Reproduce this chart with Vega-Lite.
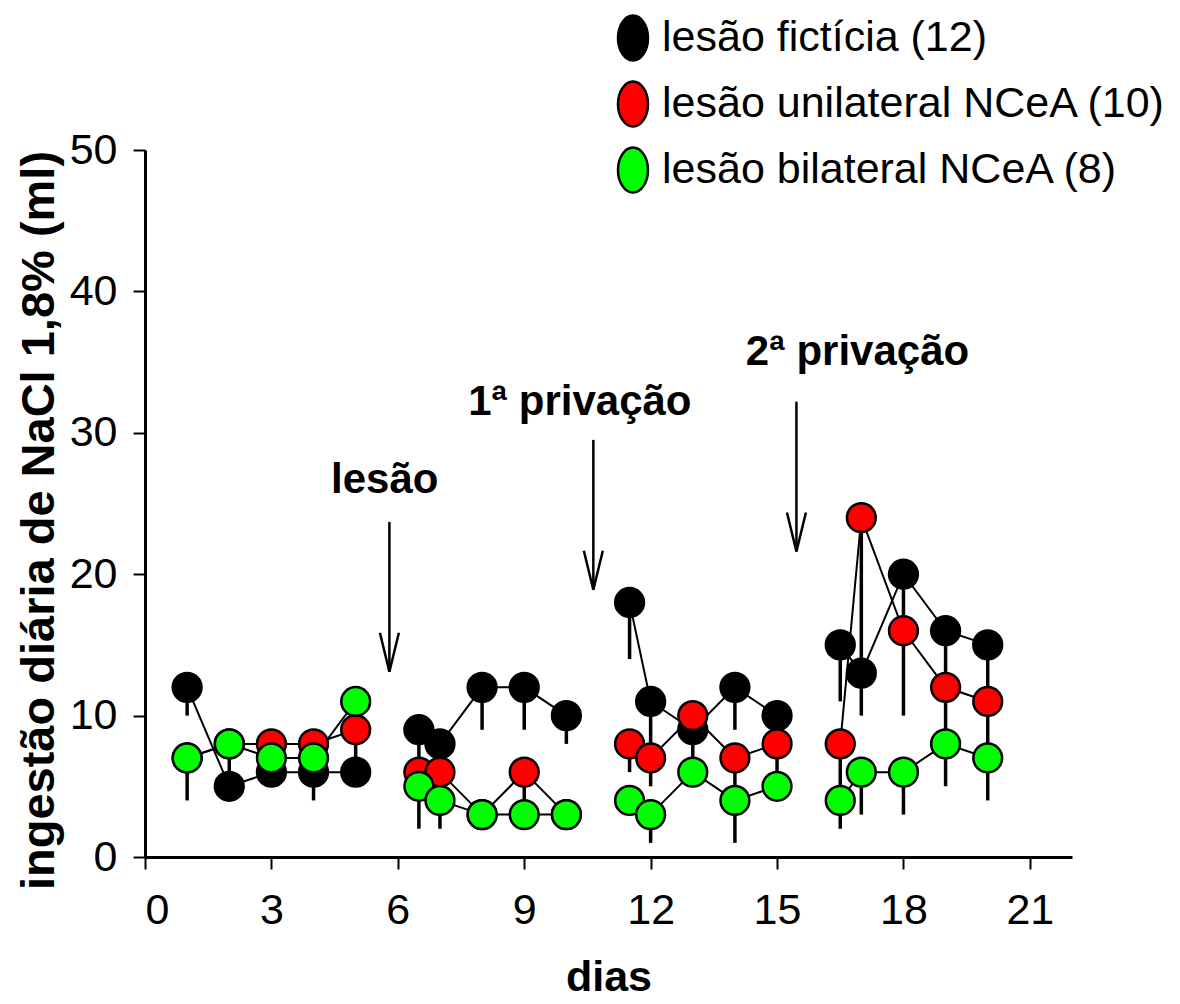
{
  "$schema": "https://vega.github.io/schema/vega-lite/v6.json",
  "autosize": {"type": "none"},
  "padding": {"left": 145, "top": 150, "right": 108, "bottom": 147},
  "width": 927,
  "height": 707,
  "background": "white",
  "config": {
    "view": {"stroke": null},
    "font": "Liberation Sans",
    "axis": {
      "grid": false,
      "domainColor": "black",
      "domainWidth": 3,
      "tickColor": "black",
      "tickWidth": 2,
      "tickSize": 12,
      "labelFont": "Liberation Sans",
      "labelFontSize": 43,
      "labelColor": "black",
      "titleFont": "Liberation Sans",
      "titleFontWeight": "bold",
      "titleColor": "black"
    }
  },
  "datasets": {
    "obs": [
      {"day": 1, "seg": 1, "grupo": "lesão fictícia (12)", "v": 12, "lo": 10},
      {"day": 2, "seg": 1, "grupo": "lesão fictícia (12)", "v": 5, "lo": 4.2},
      {"day": 3, "seg": 1, "grupo": "lesão fictícia (12)", "v": 6, "lo": 5.2},
      {"day": 4, "seg": 1, "grupo": "lesão fictícia (12)", "v": 6, "lo": 4},
      {"day": 5, "seg": 1, "grupo": "lesão fictícia (12)", "v": 6, "lo": 5.2},
      {"day": 6.5, "seg": 2, "grupo": "lesão fictícia (12)", "v": 9, "lo": 6},
      {"day": 7, "seg": 2, "grupo": "lesão fictícia (12)", "v": 8, "lo": 6.5},
      {"day": 8, "seg": 2, "grupo": "lesão fictícia (12)", "v": 12, "lo": 9},
      {"day": 9, "seg": 2, "grupo": "lesão fictícia (12)", "v": 12, "lo": 9},
      {"day": 10, "seg": 2, "grupo": "lesão fictícia (12)", "v": 10, "lo": 8},
      {"day": 11.5, "seg": 3, "grupo": "lesão fictícia (12)", "v": 18, "lo": 14},
      {"day": 12, "seg": 3, "grupo": "lesão fictícia (12)", "v": 11, "lo": 7.5},
      {"day": 13, "seg": 3, "grupo": "lesão fictícia (12)", "v": 9, "lo": 6.5},
      {"day": 14, "seg": 3, "grupo": "lesão fictícia (12)", "v": 12, "lo": 9},
      {"day": 15, "seg": 3, "grupo": "lesão fictícia (12)", "v": 10, "lo": 8.5},
      {"day": 16.5, "seg": 4, "grupo": "lesão fictícia (12)", "v": 15, "lo": 11},
      {"day": 17, "seg": 4, "grupo": "lesão fictícia (12)", "v": 13, "lo": 10},
      {"day": 18, "seg": 4, "grupo": "lesão fictícia (12)", "v": 20, "lo": 16},
      {"day": 19, "seg": 4, "grupo": "lesão fictícia (12)", "v": 16, "lo": 12},
      {"day": 20, "seg": 4, "grupo": "lesão fictícia (12)", "v": 15, "lo": 11},
      {"day": 1, "seg": 1, "grupo": "lesão unilateral NCeA (10)", "v": 7, "lo": 6.2},
      {"day": 2, "seg": 1, "grupo": "lesão unilateral NCeA (10)", "v": 8, "lo": 7.2},
      {"day": 3, "seg": 1, "grupo": "lesão unilateral NCeA (10)", "v": 8, "lo": 7.2},
      {"day": 4, "seg": 1, "grupo": "lesão unilateral NCeA (10)", "v": 8, "lo": 7.2},
      {"day": 5, "seg": 1, "grupo": "lesão unilateral NCeA (10)", "v": 9, "lo": 7},
      {"day": 6.5, "seg": 2, "grupo": "lesão unilateral NCeA (10)", "v": 6, "lo": 5},
      {"day": 7, "seg": 2, "grupo": "lesão unilateral NCeA (10)", "v": 6, "lo": 5},
      {"day": 8, "seg": 2, "grupo": "lesão unilateral NCeA (10)", "v": 3, "lo": 2.5},
      {"day": 9, "seg": 2, "grupo": "lesão unilateral NCeA (10)", "v": 6, "lo": 3.5},
      {"day": 10, "seg": 2, "grupo": "lesão unilateral NCeA (10)", "v": 3, "lo": 2.5},
      {"day": 11.5, "seg": 3, "grupo": "lesão unilateral NCeA (10)", "v": 8, "lo": 6},
      {"day": 12, "seg": 3, "grupo": "lesão unilateral NCeA (10)", "v": 7, "lo": 5},
      {"day": 13, "seg": 3, "grupo": "lesão unilateral NCeA (10)", "v": 10, "lo": 8.5},
      {"day": 14, "seg": 3, "grupo": "lesão unilateral NCeA (10)", "v": 7, "lo": 4.5},
      {"day": 15, "seg": 3, "grupo": "lesão unilateral NCeA (10)", "v": 8, "lo": 5},
      {"day": 16.5, "seg": 4, "grupo": "lesão unilateral NCeA (10)", "v": 8, "lo": 4},
      {"day": 17, "seg": 4, "grupo": "lesão unilateral NCeA (10)", "v": 24, "lo": 14},
      {"day": 18, "seg": 4, "grupo": "lesão unilateral NCeA (10)", "v": 16, "lo": 10},
      {"day": 19, "seg": 4, "grupo": "lesão unilateral NCeA (10)", "v": 12, "lo": 8},
      {"day": 20, "seg": 4, "grupo": "lesão unilateral NCeA (10)", "v": 11, "lo": 7},
      {"day": 1, "seg": 1, "grupo": "lesão bilateral NCeA (8)", "v": 7, "lo": 4},
      {"day": 2, "seg": 1, "grupo": "lesão bilateral NCeA (8)", "v": 8, "lo": 6},
      {"day": 3, "seg": 1, "grupo": "lesão bilateral NCeA (8)", "v": 7, "lo": 6.2},
      {"day": 4, "seg": 1, "grupo": "lesão bilateral NCeA (8)", "v": 7, "lo": 6.2},
      {"day": 5, "seg": 1, "grupo": "lesão bilateral NCeA (8)", "v": 11, "lo": 8},
      {"day": 6.5, "seg": 2, "grupo": "lesão bilateral NCeA (8)", "v": 5, "lo": 2},
      {"day": 7, "seg": 2, "grupo": "lesão bilateral NCeA (8)", "v": 4, "lo": 2},
      {"day": 8, "seg": 2, "grupo": "lesão bilateral NCeA (8)", "v": 3, "lo": 2.2},
      {"day": 9, "seg": 2, "grupo": "lesão bilateral NCeA (8)", "v": 3, "lo": 2.2},
      {"day": 10, "seg": 2, "grupo": "lesão bilateral NCeA (8)", "v": 3, "lo": 2.2},
      {"day": 11.5, "seg": 3, "grupo": "lesão bilateral NCeA (8)", "v": 4, "lo": 3.2},
      {"day": 12, "seg": 3, "grupo": "lesão bilateral NCeA (8)", "v": 3, "lo": 1},
      {"day": 13, "seg": 3, "grupo": "lesão bilateral NCeA (8)", "v": 6, "lo": 5.2},
      {"day": 14, "seg": 3, "grupo": "lesão bilateral NCeA (8)", "v": 4, "lo": 1},
      {"day": 15, "seg": 3, "grupo": "lesão bilateral NCeA (8)", "v": 5, "lo": 4.2},
      {"day": 16.5, "seg": 4, "grupo": "lesão bilateral NCeA (8)", "v": 4, "lo": 2},
      {"day": 17, "seg": 4, "grupo": "lesão bilateral NCeA (8)", "v": 6, "lo": 3},
      {"day": 18, "seg": 4, "grupo": "lesão bilateral NCeA (8)", "v": 6, "lo": 3},
      {"day": 19, "seg": 4, "grupo": "lesão bilateral NCeA (8)", "v": 8, "lo": 5},
      {"day": 20, "seg": 4, "grupo": "lesão bilateral NCeA (8)", "v": 7, "lo": 4}
    ],
    "arrows": [
      {"x": 5.8, "top": 23.7, "tip": 13.1},
      {"x": 10.64, "top": 29.5, "tip": 18.9},
      {"x": 15.46, "top": 32.2, "tip": 21.6}
    ],
    "notes": [
      {"x": 5.69, "y": 25.74, "label": "lesão"},
      {"x": 10.32, "y": 31.26, "label": "1ª privação"},
      {"x": 16.91, "y": 34.8, "label": "2ª privação"}
    ]
  },
  "layer": [
    {
      "data": {"name": "obs"},
      "mark": {"type": "rule", "color": "black", "strokeWidth": 3.5},
      "encoding": {
        "x": {"field": "day", "type": "quantitative", "scale": {"domain": [0, 22], "nice": false},
              "axis": {"values": [0, 3, 6, 9, 12, 15, 18, 21], "title": "dias", "titleFontSize": 43, "labelPadding": 20, "titlePadding": 24}},
        "y": {"field": "v", "type": "quantitative", "scale": {"domain": [0, 50], "nice": false},
              "axis": {"values": [0, 10, 20, 30, 40, 50], "title": "ingestão diária de NaCl 1,8% (ml)", "titleFontSize": 47, "labelPadding": 16, "titlePadding": 6, "titleY": 370}},
        "y2": {"field": "lo"}
      }
    },
    {
      "data": {"name": "obs"},
      "mark": {"type": "line", "color": "black", "strokeWidth": 2},
      "encoding": {
        "x": {"field": "day", "type": "quantitative"},
        "y": {"field": "v", "type": "quantitative"},
        "detail": [{"field": "grupo"}, {"field": "seg"}],
        "order": {"field": "day"}
      }
    },
    {
      "data": {"name": "obs"},
      "mark": {"type": "point", "shape": "circle", "filled": true, "size": 830, "opacity": 1, "stroke": "black", "strokeWidth": 2.5},
      "encoding": {
        "x": {"field": "day", "type": "quantitative"},
        "y": {"field": "v", "type": "quantitative"},
        "fill": {
          "field": "grupo", "type": "nominal",
          "scale": {"domain": ["lesão fictícia (12)", "lesão unilateral NCeA (10)", "lesão bilateral NCeA (8)"], "range": ["#000000", "#ff0000", "#00ff00"]},
          "legend": {
            "orient": "none", "legendX": 464, "legendY": -136, "title": null, "padding": 0,
            "symbolType": "M0,-1C0.368,-1 0.667,-0.552 0.667,0C0.667,0.552 0.368,1 0,1C-0.368,1 -0.667,0.552 -0.667,0C-0.667,-0.552 -0.368,-1 0,-1Z",
            "symbolSize": 2025, "symbolStrokeColor": "black", "symbolStrokeWidth": 2.5, "symbolOpacity": 1,
            "labelFont": "Liberation Sans", "labelFontSize": 43, "labelColor": "black", "labelOffset": 5, "labelLimit": 600,
            "rowPadding": 10
          }
        }
      }
    },
    {
      "data": {"name": "arrows"},
      "mark": {"type": "rule", "color": "black", "strokeWidth": 2.5},
      "encoding": {
        "x": {"field": "x", "type": "quantitative"},
        "y": {"field": "top", "type": "quantitative"},
        "y2": {"field": "tip"}
      }
    },
    {
      "data": {"name": "arrows"},
      "mark": {"type": "point", "shape": "M-0.95,-3.9L0,0L0.95,-3.9", "filled": false, "size": 400, "stroke": "black", "strokeWidth": 2.5, "opacity": 1},
      "encoding": {
        "x": {"field": "x", "type": "quantitative"},
        "y": {"field": "tip", "type": "quantitative"}
      }
    },
    {
      "data": {"name": "notes"},
      "mark": {"type": "text", "font": "Liberation Sans", "fontWeight": "bold", "fontSize": 42, "align": "center", "baseline": "alphabetic", "color": "black"},
      "encoding": {
        "x": {"field": "x", "type": "quantitative"},
        "y": {"field": "y", "type": "quantitative"},
        "text": {"field": "label"}
      }
    }
  ]
}
